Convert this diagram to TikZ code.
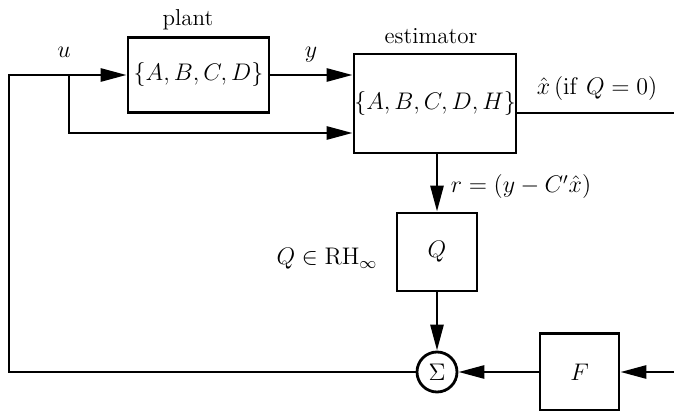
\documentclass[tikz,border=0pt]{standalone}
\usetikzlibrary{arrows.meta,calc}
\begin{document}
\begin{tikzpicture}[x=0.5pt,y=-0.5pt,
  line width=1.4pt,
  every node/.style={font=\fontsize{11.5}{13}\selectfont},
  blk/.style={draw,line width=1.4pt,inner sep=0pt},
  arr/.style={-{Triangle[length=13pt,width=6.5pt]}},
  lbl/.style={inner sep=0pt}]
\useasboundingbox (0,0) rectangle (674,411);
% blocks
\node[blk,minimum width=70.5pt,minimum height=37.5pt] (plant) at (198.5,75) {$\{A,B,C,D\}$};
\node[blk,minimum width=81pt,minimum height=49.5pt] (est) at (435,103.5) {$\{A,B,C,D,H\}$};
\node[blk,minimum width=40pt,minimum height=39pt] (Q) at (437,252) {$Q$};
\node[blk,minimum width=39.5pt,minimum height=38.5pt] (F) at (579.5,372) {$F$};
\node[blk,circle,minimum size=20pt] (sum) at (437,372) {$\Sigma$};
% coordinates
\coordinate (uL) at (9,75);
\coordinate (b) at (69,75);
\coordinate (low) at (0,133);
\coordinate (xo) at (674,113);
\coordinate (fin) at (674,372);
% labels
\node[lbl] (lplant) at (188,20) {plant};
\node[lbl] (lest) at (431,36) {estimator};
\node[lbl] (lu) at (64,52) {$u$};
\node[lbl] (ly) at (311,55) {$y$};
\node[lbl] (lx) at (597,89) {$\hat{x}\,(\mathrm{if}\ Q=0)$};
\node[lbl] (lr) at (521,187) {$r=(y-C'\hat{x})$};
\node[lbl] (lq) at (327,259) {$Q\in\mathrm{RH}_\infty$};
% connectors
\draw[arr] (sum.west) -| (uL) -- (plant.west);
\draw[arr] (plant.east) -- (est.west |- plant.east);
\draw[arr] (b) |- (est.west |- low);
\draw (est.east |- xo) -- (xo);
\draw[arr] (Q.north |- est.south) -- (Q.north);
\draw[arr] (Q.south) -- (sum.north);
\draw[arr] (F.west) -- (sum.east);
\draw[arr] (fin) -- (F.east);
\end{tikzpicture}
\end{document}
